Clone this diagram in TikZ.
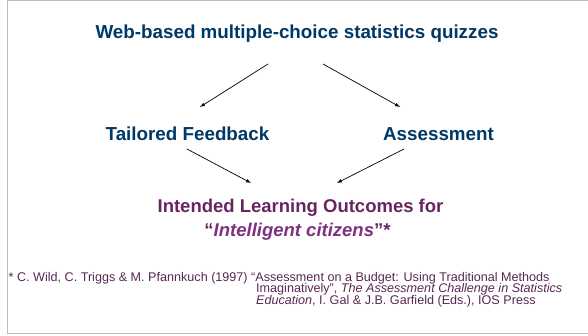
\documentclass[tikz,border=0pt]{standalone}
\usepackage{fontspec}
\setmainfont{Liberation Sans}
\definecolor{tblue}{RGB}{0,56,102}
\definecolor{tpurple}{RGB}{102,38,96}
\definecolor{ipurple}{RGB}{128,48,128}
\definecolor{fpurple}{RGB}{88,40,84}
\definecolor{bordergray}{RGB}{190,190,190}
\begin{document}
\begin{tikzpicture}[x=1pt,y=-1pt,
  head/.style={font=\fontsize{18.8}{22}\selectfont\bfseries, text=tblue, inner sep=0pt},
  outc/.style={font=\fontsize{18.5}{22}\selectfont\bfseries, text=tpurple, inner sep=0pt},
  foot/.style={font=\fontsize{12.6}{14}\selectfont, text=fpurple, inner sep=0pt, anchor=west},
  conn/.style={-latex, line width=0.7pt, black, shorten >=0pt}]
\useasboundingbox (0,0) rectangle (588,336);
\fill[white] (0,0) rectangle (588,336);
\draw[bordergray, line width=1pt] (588,0.5) -- (7.5,0.5) -- (7.5,333.5) -- (588,333.5);
\node[head] (web) at (297,33.5) {Web-based multiple-choice statistics quizzes};
\node[head] (tf) at (187.5,134) {Tailored Feedback};
\node[head] (as) at (438.5,134) {Assessment};
\node[outc] (ilo) at (300.5,208) {Intended Learning Outcomes for};
\node[outc] (ic) at (297.5,232) {“{\color{ipurple}\itshape Intelligent citizens}”*};
\coordinate (w1) at (268,64);
\coordinate (w2) at (323,64);
\coordinate (t1) at (200,107);
\coordinate (a1) at (400,107);
\coordinate (t2) at (187,149);
\coordinate (a2) at (404,149);
\coordinate (i1) at (251,183);
\coordinate (i2) at (337,183);
\draw[conn] (w1) -- (t1);
\draw[conn] (w2) -- (a1);
\draw[conn] (t2) -- (i1);
\draw[conn] (a2) -- (i2);
\node[foot] (f1) at (8.5,278) {* C. Wild, C. Triggs \& M. Pfannkuch (1997) “Assessment on a Budget: Using Traditional Methods};
\node[foot] (f2) at (256,289.5) {Imaginatively”, {\itshape The Assessment Challenge in Statistics}};
\node[foot] (f3) at (256,301) {{\itshape Education}, I. Gal \& J.B. Garfield (Eds.), IOS Press};
\end{tikzpicture}
\end{document}
